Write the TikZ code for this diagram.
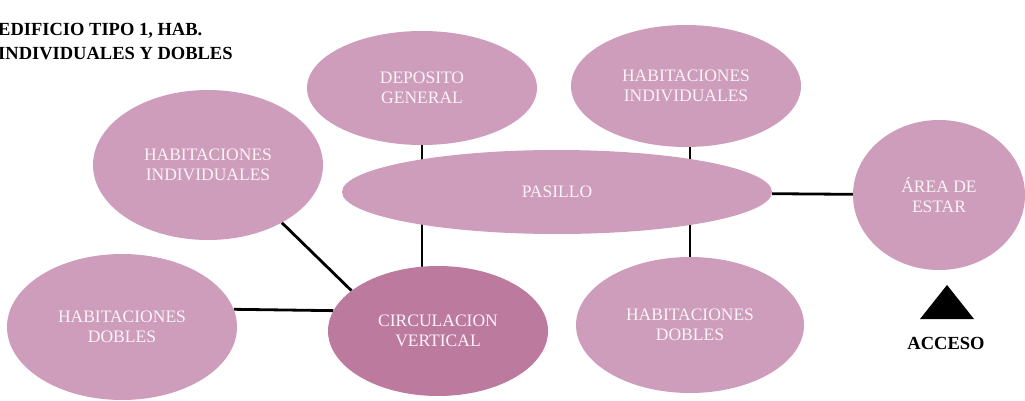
\documentclass[tikz,border=0pt]{standalone}
\usepackage{fontspec}
\setmainfont{Liberation Serif}
\usetikzlibrary{shapes.geometric,backgrounds}
\definecolor{lightmauve}{HTML}{CD9DBB}
\definecolor{darkmauve}{HTML}{BD7A9F}
\definecolor{softwhite}{HTML}{FBF3F7}
\tikzset{
  room/.style={ellipse, fill=lightmauve, inner sep=0pt, text=softwhite,
    align=center, font=\fontsize{17.5}{20}\selectfont},
  roomdark/.style={room, fill=darkmauve},
  link/.style={line width=2.8pt, black},
  label/.style={font=\bfseries\fontsize{18.5}{24}\selectfont, text=black, inner sep=0pt}
}
\begin{document}
\begin{tikzpicture}[x=1pt,y=-1pt]
\useasboundingbox (0,0) rectangle (1025,401);
\node[room, minimum width=230, minimum height=114] (dep) at (422,88) {DEPOSITO\\GENERAL};
\node[room, minimum width=230, minimum height=122] (hir) at (686,86) {HABITACIONES\\INDIVIDUALES};
\node[room, minimum width=230, minimum height=150] (hil) at (208,165) {HABITACIONES\\INDIVIDUALES};
\node[room, minimum width=430, minimum height=84] (pas) at (557,192) {PASILLO};
\node[room, minimum width=172, minimum height=150] (area) at (939,195) {ÁREA DE\\ESTAR};
\node[room, minimum width=230, minimum height=146] (hdl) at (122,327) {HABITACIONES\\DOBLES};
\node[roomdark, minimum width=220, minimum height=130] (circ) at (438,331) {CIRCULACION\\VERTICAL};
\node[room, minimum width=228, minimum height=136] (hdr) at (690,325) {HABITACIONES\\DOBLES};
\node[label, anchor=north west, align=left] (title) at (-2,23) {EDIFICIO TIPO 1, HAB.\\INDIVIDUALES Y DOBLES};
\fill[black] (920,319) -- (947,285) -- (974,319) -- cycle;
\node[label] (acc) at (946,343) {ACCESO};
\begin{scope}[on background layer]
\draw[link] (dep) -- (dep |- pas);
\draw[link] (dep |- pas) -- (dep |- circ);
\draw[link] (hdr |- hir) -- (hdr |- pas);
\draw[link] (hdr |- pas) -- (hdr);
\draw[link] (pas) -- (area);
\draw[link] (hil.-38) -- (circ.155);
\draw[link] (hdl.9) -- (circ.169);
\end{scope}
\end{tikzpicture}
\end{document}
